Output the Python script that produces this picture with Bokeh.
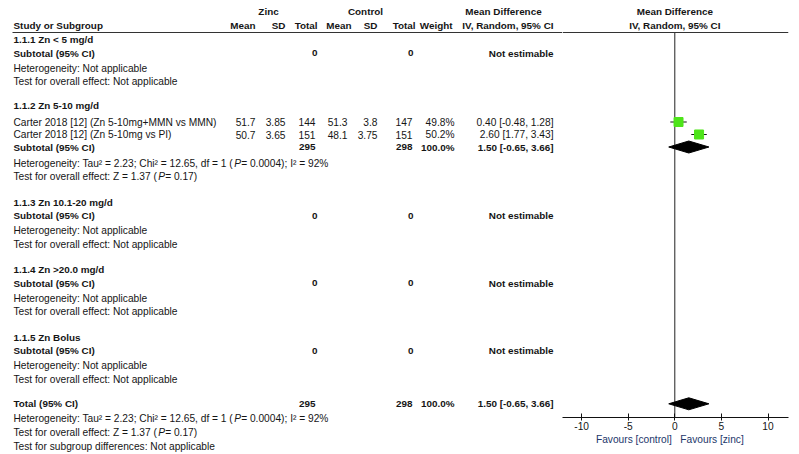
from bokeh.plotting import figure
from bokeh.models import ColumnDataSource, Span, FixedTicker, Range1d
from bokeh.layouts import row
from bokeh.embed import file_html
from bokeh.resources import INLINE
from bokeh.core.properties import value

# ---------------- data ----------------
subgroups = ["1.1.1 Zn < 5 mg/d", "1.1.2 Zn 5-10 mg/d", "1.1.3 Zn 10.1-20 mg/d",
             "1.1.4 Zn >20.0 mg/d", "1.1.5 Zn Bolus"]
study_labels = ["Carter 2018 [12] (Zn 5-10mg+MMN vs MMN)", "Carter 2018 [12] (Zn 5-10mg vs PI)"]
zinc_mean = [51.7, 50.7]
zinc_sd = [3.85, 3.65]
zinc_n = [144, 151]
ctrl_mean = [51.3, 48.1]
ctrl_sd = [3.8, 3.75]
ctrl_n = [147, 151]
weights = [49.8, 50.2]
md = [0.40, 2.60]
md_lo = [-0.48, 1.77]
md_hi = [1.28, 3.43]
pooled = [1.50, -0.65, 3.66]       # estimate, lower, upper
pooled_n = [295, 298]
het_prefix = "Heterogeneity: Tau\u00b2 = 2.23; Chi\u00b2 = 12.65, df = 1 ("
het_suffix = " = 0.0004); I\u00b2 = 92%"
test_prefix = "Test for overall effect: Z = 1.37 ("
test_suffix = " = 0.17)"
tick_values = [-10, -5, 0, 5, 10]

# ---------------- style / layout ----------------
FONT = "Liberation Sans"
FS = 10.2
FSB = 9.9
TXT = "#151515"
GREEN = "#4ee41a"

ARIAL = {' ': 278, '(': 333, ')': 333, ',': 278, '-': 333, '.': 278, ':': 278, ';': 278,
         '=': 584, '\u00b2': 333, '%': 889, '[': 278, ']': 278,
         'A': 667, 'B': 667, 'C': 722, 'D': 722, 'E': 667, 'F': 611, 'G': 778, 'H': 722,
         'I': 278, 'J': 500, 'K': 667, 'L': 556, 'M': 833, 'N': 722, 'O': 778, 'P': 667,
         'Q': 778, 'R': 722, 'S': 667, 'T': 611, 'U': 722, 'V': 667, 'W': 944, 'X': 667,
         'Y': 667, 'Z': 611, 'a': 556, 'b': 556, 'c': 500, 'd': 556, 'e': 556, 'f': 278,
         'g': 556, 'h': 556, 'i': 222, 'j': 222, 'k': 500, 'l': 222, 'm': 833, 'n': 556,
         'o': 556, 'p': 556, 'q': 556, 'r': 333, 's': 500, 't': 278, 'u': 556, 'v': 500,
         'w': 722, 'x': 500, 'y': 500, 'z': 500}


def twidth(s, fs=FS):
    return sum(ARIAL.get(ch, 556) for ch in s) * fs / 1000.0


X_LEFT = 13
HDR_RIGHT = [255, 285, 317, 351, 377, 415, 452, 553]
HDR_NAMES = ["Mean", "SD", "Total", "Mean", "SD", "Total", "Weight", "IV, Random, 95% CI"]
C_ZM, C_ZSD, C_ZN, C_CM, C_CSD, C_CN, C_WT, C_CI = 255, 285, 315, 347, 377, 412, 454, 553
group_y = [39, 105, 201.7, 269, 336.7]
study_y = [121.5, 134]
sub2_y = 146.5
total_y = 403.3
HDR_LINE_Y = 32

txt = {k: dict(x=[], y=[], text=[]) for k in
       ["reg_l", "reg_r", "bold_l", "bold_r", "bold_c", "ital_l"]}


def add(kind, x, y, t):
    txt[kind]["x"].append(x)
    txt[kind]["y"].append(y)
    txt[kind]["text"].append(t)


def add_stat(y, prefix, suffix):
    add("reg_l", X_LEFT, y, prefix)
    xp = X_LEFT + twidth(prefix)
    add("ital_l", xp, y, "P")
    add("reg_l", xp + twidth("P"), y, suffix)


def fmt_ci(e, l, h):
    return f"{e:.2f} [{l:.2f}, {h:.2f}]"


# headers
add("bold_c", 268, 11, "Zinc")
add("bold_c", 365, 11, "Control")
add("bold_c", 503, 11, "Mean Difference")
add("bold_l", X_LEFT, 25, "Study or Subgroup")
for xr, name in zip(HDR_RIGHT, HDR_NAMES):
    add("bold_r", xr, 25, name)

for gi, (gname, gy) in enumerate(zip(subgroups, group_y)):
    add("bold_l", X_LEFT, gy, gname)
    if gi == 1:
        for i, lab in enumerate(study_labels):
            y = study_y[i]
            add("reg_l", X_LEFT, y, lab)
            add("reg_r", C_ZM, y, f"{zinc_mean[i]}")
            add("reg_r", C_ZSD, y, f"{zinc_sd[i]}")
            add("reg_r", C_ZN, y, f"{zinc_n[i]}")
            add("reg_r", C_CM, y, f"{ctrl_mean[i]}")
            add("reg_r", C_CSD, y, f"{ctrl_sd[i]}")
            add("reg_r", C_CN, y, f"{ctrl_n[i]}")
            add("reg_r", C_WT, y, f"{weights[i]:.1f}%")
            add("reg_r", C_CI, y, fmt_ci(md[i], md_lo[i], md_hi[i]))
        add("bold_l", X_LEFT, sub2_y, "Subtotal (95% CI)")
        add("bold_r", C_ZN, sub2_y, f"{pooled_n[0]}")
        add("bold_r", C_CN, sub2_y, f"{pooled_n[1]}")
        add("bold_r", C_WT, sub2_y, f"{sum(weights):.1f}%")
        add("bold_r", C_CI, sub2_y, fmt_ci(*pooled))
        add_stat(sub2_y + 16, het_prefix, het_suffix)
        add_stat(sub2_y + 29, test_prefix, test_suffix)
    else:
        ys = gy + 13.5
        add("bold_l", X_LEFT, ys, "Subtotal (95% CI)")
        add("bold_r", C_ZN + 2, ys, "0")
        add("bold_r", C_CN + 1, ys, "0")
        add("bold_r", C_CI, ys, "Not estimable")
        add("reg_l", X_LEFT, gy + 28.5, "Heterogeneity: Not applicable")
        add("reg_l", X_LEFT, gy + 42, "Test for overall effect: Not applicable")

add("bold_l", X_LEFT, total_y, "Total (95% CI)")
add("bold_r", C_ZN, total_y, f"{pooled_n[0]}")
add("bold_r", C_CN, total_y, f"{pooled_n[1]}")
add("bold_r", C_WT, total_y, f"{sum(weights):.1f}%")
add("bold_r", C_CI, total_y, fmt_ci(*pooled))
add_stat(total_y + 15, het_prefix, het_suffix)
add_stat(total_y + 29, test_prefix, test_suffix)
add("reg_l", X_LEFT, total_y + 42.7, "Test for subgroup differences: Not applicable")

# ---------------- table figure ----------------
TAB_W, FRAME_H = 562, 454
t = figure(frame_width=TAB_W, frame_height=FRAME_H, x_range=Range1d(0, TAB_W),
           y_range=Range1d(FRAME_H, 0), output_backend="svg", toolbar_location=None,
           x_axis_location=None, y_axis_location=None, min_border=0,
           background_fill_color="white", border_fill_color="white", outline_line_color=None)
t.xgrid.visible = False
t.ygrid.visible = False

styles = {
    "reg_l": dict(text_align="left", text_font_style="normal", text_font_size=f"{FS}px"),
    "reg_r": dict(text_align="right", text_font_style="normal", text_font_size=f"{FS}px"),
    "bold_l": dict(text_align="left", text_font_style="bold", text_font_size=f"{FSB}px"),
    "bold_r": dict(text_align="right", text_font_style="bold", text_font_size=f"{FSB}px"),
    "bold_c": dict(text_align="center", text_font_style="bold", text_font_size=f"{FSB}px"),
    "ital_l": dict(text_align="left", text_font_style="italic", text_font_size=f"{FS}px"),
}
for k, st in styles.items():
    t.text(x="x", y="y", text="text", source=ColumnDataSource(txt[k]),
           text_font=value(FONT), text_color=TXT, text_baseline="middle", **st)

t.segment(x0=[12], y0=[HDR_LINE_Y], x1=[TAB_W], y1=[HDR_LINE_Y], line_color="#333333", line_width=1)

# ---------------- forest figure ----------------
PX_PER_UNIT = 9.32
X0 = -12.05
F_W = 226
F_H = 417
f = figure(frame_width=F_W, frame_height=F_H,
           x_range=Range1d(X0, X0 + F_W / PX_PER_UNIT), y_range=Range1d(F_H, 0),
           output_backend="svg", toolbar_location=None, y_axis_location=None,
           min_border_left=0, min_border_top=0, min_border_right=11, min_border_bottom=FRAME_H - F_H,
           background_fill_color="white", border_fill_color="white", outline_line_color=None)
f.xgrid.visible = False
f.ygrid.visible = False

f.add_layout(Span(location=HDR_LINE_Y, dimension="width", line_color="#333333", line_width=1))
f.segment(x0=[0], y0=[HDR_LINE_Y], x1=[0], y1=[F_H], line_color="#222222", line_width=1)

f.text(x=[0, 0], y=[11, 25], text=["Mean Difference", "IV, Random, 95% CI"],
       text_font=value(FONT), text_font_size=f"{FSB}px", text_font_style="bold",
       text_color=TXT, text_align="center", text_baseline="middle")

f.segment(x0=md_lo, y0=study_y, x1=md_hi, y1=study_y, line_color="#111111", line_width=1)
sizes = [9.0 * (w / 50.0) ** 0.5 for w in weights]
f.scatter(x=md, y=study_y, size=sizes, marker="square", fill_color=GREEN, line_color=GREEN)

HALF = 6
diamond_y = [sub2_y, total_y]
f.patches(xs=[[pooled[1], pooled[0], pooled[2], pooled[0]] for _ in diamond_y],
          ys=[[dy, dy - HALF, dy, dy + HALF] for dy in diamond_y],
          fill_color="black", line_color="black")

ax = f.xaxis[0]
ax.ticker = FixedTicker(ticks=tick_values)
ax.major_label_overrides = {v: str(v) for v in tick_values}
ax.axis_line_color = "#111111"
ax.major_tick_line_color = "#111111"
ax.major_tick_in = 4
ax.major_tick_out = 3
ax.minor_tick_line_color = None
ax.major_label_standoff = 1
ax.major_label_text_font = FONT
ax.major_label_text_font_size = f"{FS}px"
ax.major_label_text_color = TXT
NB = "\u00a0"
ax.axis_label = "Favours [control]" + NB * 3 + "Favours [zinc]" + NB * 4
ax.axis_label_standoff = 1
ax.axis_label_text_font = FONT
ax.axis_label_text_font_size = f"{FS}px"
ax.axis_label_text_font_style = "normal"
ax.axis_label_text_color = "#22366a"

layout = row(t, f, spacing=0)
open("out.html", "w").write(file_html(layout, INLINE))
